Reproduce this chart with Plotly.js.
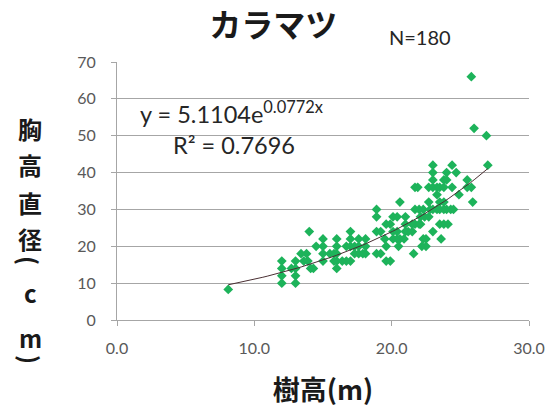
<!DOCTYPE html>
<html>
<head>
<meta charset="utf-8">
<script src="https://cdn.plot.ly/plotly-3.0.1.min.js"></script>
<style>html,body{margin:0;padding:0;background:#fff;}#chart{width:547px;height:408px;}</style>
</head>
<body>
<div id="chart"></div>
<script>
// Tree height (m) for each measured tree
const treeHeight = [
  8.1,
  12, 12, 12, 12, 12.7,
  13, 13, 13, 13, 13.4, 13.8, 14, 13.6, 13.9, 14.1, 14.3, 14.5,
  15, 15, 15, 15, 15.5, 15.8,
  16, 16, 16, 16, 16, 15.8, 16.4, 16.7, 17,
  16.7, 17, 17.3, 17, 17, 17.6, 17.6, 17.6,
  18.1, 18.1, 18.1, 17.9, 17.3,
  18.9, 18.9, 18.9, 19.2, 18.9, 19.2, 19.5, 19.6, 19.6, 19.9, 19.6, 19.9,
  20.1, 20.4, 20.1, 20.4, 20.1, 20.4, 20.6, 20.9, 20.5, 20.6,
  21, 21, 21, 21.2, 21.5, 21.5, 21.7, 22, 22.1, 21.6,
  21.7, 22, 22.3, 21.7, 21.9, 22.1, 22.4, 22.7,
  22.2, 22.5, 22.3, 22.5, 22.7, 22.8,
  22.7, 23, 23.3, 23.5, 23.8, 23, 23, 23,
  23.3, 23.5, 23.8,
  23, 23.3, 23.5, 23.8, 24, 24.3, 24.5,
  23, 23.5, 23.8, 24.1, 23.6,
  23.8, 24, 24, 24.4, 24.4, 24.7, 24.9,
  25.5, 25.5, 25.8, 25.9, 25.8, 26, 26.9, 27
];
// Breast-height diameter (cm) for each measured tree
const dbh = [
  8.3,
  16, 14, 12, 10, 14,
  16, 14, 12, 10, 18, 18, 24, 16, 16, 14, 14, 20,
  22, 20, 18, 16, 18, 18,
  22, 20, 18, 16, 14, 16, 16, 16, 16,
  20, 20, 20, 24, 22, 22, 20, 18,
  22, 20, 18, 18, 18,
  30, 28, 24, 24, 18, 18, 22, 20, 16, 16, 26, 26,
  28, 28, 24, 24, 22, 22, 22, 22, 20, 32,
  28, 26, 24, 24, 24, 26, 26, 26, 26, 18,
  30, 30, 30, 36, 36, 28, 28, 28,
  20, 20, 22, 22, 32, 30,
  36, 36, 36, 36, 36, 42, 40, 38,
  34, 32, 32,
  30, 30, 30, 30, 30, 30, 30,
  24, 26, 26, 26, 22,
  38, 40, 38, 42, 36, 40, 34,
  38, 36, 36, 32, 66, 52, 50, 42
];
// Exponential trendline y = a * e^(b x), as printed on the chart
const trendCoef = [5.1104, 0.0772];
const trendRange = [8.1, 27];
const xTickLabels = ['0.0', '10.0', '20.0', '30.0'];
const yTickLabels = ['0', '10', '20', '30', '40', '50', '60', '70'];

const trendX = [], trendY = [];
for (let i = 0; i <= 60; i++) {
  const x = trendRange[0] + (trendRange[1] - trendRange[0]) * i / 60;
  trendX.push(x);
  trendY.push(trendCoef[0] * Math.exp(trendCoef[1] * x));
}

const latin = 'Lato, "Open Sans", sans-serif';
const tickFont = {family: latin, size: 16, color: '#595959'};
const jp = '"Noto Sans CJK JP", sans-serif';
const axisGray = '#a6a6a6';

const data = [
  {x: treeHeight, y: dbh, type: 'scatter', mode: 'markers',
   marker: {symbol: 'diamond', size: 7.5, color: '#1db35a'}, hoverinfo: 'x+y', showlegend: false},
  {x: trendX, y: trendY, type: 'scatter', mode: 'lines',
   line: {color: '#4a2f33', width: 1}, hoverinfo: 'skip', showlegend: false}
];

// vertical (stacked) y-axis title: 胸高直径(cm)
const yLabelChars = ['胸', '高', '直', '径', '(', 'c', 'm', ')'];
const yLabelPos = [0.743, 0.604, 0.457, 0.314, 0.232, 0.108, -0.066, -0.151];
const yLabelRot = [0, 0, 0, 0, 90, 0, 0, 90];
const annotations = yLabelChars.map((c, i) => ({
  text: '<b>' + c + '</b>', xref: 'paper', yref: 'paper', x: -0.211, y: yLabelPos[i],
  xanchor: 'center', yanchor: 'middle', showarrow: false, textangle: yLabelRot[i],
  font: {family: jp, size: 24, color: '#1a1a1a'}
}));
annotations.push(
  {text: 'N=180', xref: 'paper', yref: 'paper', x: 0.735, y: 1.095, xanchor: 'center', yanchor: 'middle',
   showarrow: false, font: {family: latin, size: 20, color: '#262626'}},
  {text: 'y = 5.1104e<sup>0.0772x</sup>', xref: 'paper', yref: 'paper', x: 0.05, y: 0.805,
   xanchor: 'left', yanchor: 'middle', showarrow: false,
   font: {family: latin, size: 23.5, color: '#262626'}},
  {text: 'R² = 0.7696', xref: 'paper', yref: 'paper', x: 0.13, y: 0.68,
   xanchor: 'left', yanchor: 'middle', showarrow: false,
   font: {family: latin, size: 23.5, color: '#262626'}}
);

const layout = {
  width: 547, height: 408,
  margin: {l: 117, r: 18, t: 62, b: 88},
  paper_bgcolor: '#ffffff', plot_bgcolor: '#ffffff',
  title: {text: '<b>カラマツ</b>', font: {family: jp, size: 32, color: '#1a1a1a'},
          xref: 'paper', x: 0.379, xanchor: 'center', yref: 'container', y: 0.937, yanchor: 'middle'},
  xaxis: {
    range: [0, 30], tickvals: [0, 10, 20, 30], ticktext: xTickLabels,
    showgrid: false, zeroline: false, showline: true, linecolor: axisGray, linewidth: 1,
    ticks: 'outside', ticklen: 5, tickcolor: axisGray, tickfont: tickFont, ticklabelstandoff: 9,
    title: {text: '<b>樹高(m)</b>', font: {family: jp, size: 27, color: '#1a1a1a'}, standoff: 31},
    fixedrange: true
  },
  yaxis: {
    range: [0, 70], tickvals: [0, 10, 20, 30, 40, 50, 60, 70], ticktext: yTickLabels,
    showgrid: true, gridcolor: axisGray, gridwidth: 1, zeroline: false,
    showline: true, linecolor: axisGray, linewidth: 1,
    ticks: 'outside', ticklen: 5, tickcolor: axisGray, tickfont: tickFont, ticklabelstandoff: 12,
    fixedrange: true
  },
  annotations: annotations,
  showlegend: false
};

Plotly.newPlot('chart', data, layout, {displayModeBar: false, staticPlot: true});
</script>
</body>
</html>
